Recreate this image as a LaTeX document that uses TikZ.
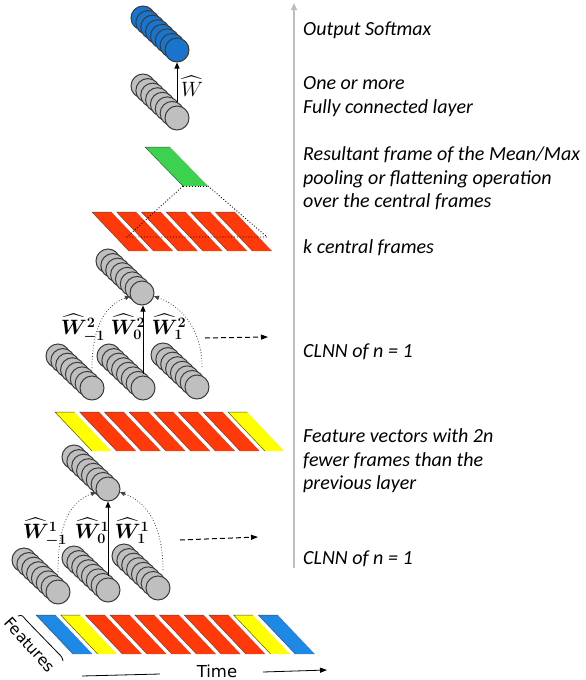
\documentclass[tikz,border=0pt]{standalone}
\usepackage{fontspec}
\usepackage{amsmath}
\usepackage{bm}
\setmainfont{Carlito}
\newfontfamily\sansdv{DejaVu Sans}
\usetikzlibrary{arrows.meta}
\definecolor{cylgray}{RGB}{191,191,191}
\definecolor{cylline}{RGB}{60,60,60}
\definecolor{cylblue}{RGB}{24,116,205}
\definecolor{stripered}{RGB}{255,58,10}
\definecolor{stripeyellow}{RGB}{255,255,0}
\definecolor{stripeblue}{RGB}{30,136,229}
\definecolor{framegreen}{RGB}{60,210,80}
\definecolor{axisgray}{RGB}{190,190,190}
\tikzset{
  disk/.style={draw=cylline, line width=1pt},
  disknode/.style={circle, minimum size=24pt, inner sep=0pt, draw=cylline, line width=1pt},
  stripeedge/.style={draw=black!70, line width=0.5pt},
  lbl/.style={anchor=west, inner sep=0pt, align=left, font=\itshape\fontsize{20}{23.5}\selectfont},
  wlbl/.style={inner sep=0pt, font=\fontsize{21}{24}\selectfont},
  solidarrow/.style={line width=0.9pt, -{Triangle[length=6pt,width=5pt]}},
  dotarrow/.style={dotted, line width=0.8pt, black!75, -{Triangle[length=5pt,width=4.5pt]}},
  dasharrow/.style={line width=1pt, dash pattern=on 5pt off 3pt, -{Triangle[length=7pt,width=5pt]}},
  dottri/.style={dotted, line width=0.9pt, black},
}
\newcommand{\diskstack}[4]{%
  \foreach \i in {0,...,6} {
    \draw[disk, fill=#4] ({#2-34+\i*34/7},{#3-32+\i*32/7}) circle[radius=12];
  }
  \node[disknode, fill=#4] (#1) at (#2,#3) {};
}
\newcommand{\stripe}[6]{%
  \fill[fill=#6] (#1,#2) -- ({#1+#3},#2) -- ({#1+#3+#5},{#2+#4}) -- ({#1+#5},{#2+#4}) -- cycle;
  \draw[stripeedge] ({#1+#5},{#2+#4}) -- (#1,#2) -- ({#1+#3},#2);
}
\begin{document}
\begin{tikzpicture}[x=1pt,y=-1pt]
\useasboundingbox (0,0) rectangle (586,680);
% axis
\coordinate (axbot) at (294,568);
\coordinate (axtop) at (294,3);
\draw[axisgray, line width=1.6pt, -{Triangle[length=7pt,width=6pt]}] (axbot) -- (axtop);
% texts
\node[lbl] (txsoft) at (303,30) {Output Softmax};
\node[lbl] (txfc) at (303,96.5) {One or more\\Fully connected layer};
\node[lbl] (txres) at (303,178.5) {Resultant frame of the Mean/Max\\pooling or flattening operation\\over the central frames};
\node[lbl] (txk) at (303,248) {k central frames};
\node[lbl] (txclnn2) at (303,352) {CLNN of n = 1};
\node[lbl] (txfeat) at (303,461) {Feature vectors with 2n\\fewer frames than the\\previous layer};
\node[lbl] (txclnn1) at (303,559) {CLNN of n = 1};
% bottom band
\foreach \c [count=\k from 0] in {stripeblue,stripeyellow,stripered,stripered,stripered,stripered,stripered,stripered,stripeyellow,stripeblue} {
  \stripe{36+\k*24.7}{615}{19.5}{39}{37}{\c}
}
% middle band
\foreach \c [count=\k from 0] in {stripeyellow,stripered,stripered,stripered,stripered,stripered,stripered,stripeyellow} {
  \stripe{55+\k*24.7}{412}{19.5}{39}{37}{\c}
}
% top band
\foreach \c [count=\k from 0] in {stripered,stripered,stripered,stripered,stripered,stripered} {
  \stripe{92+\k*24.7}{212}{19.5}{39}{37}{\c}
}
% green frame
\fill[framegreen] (145,147) -- (170,147) -- (208,186) -- (183,186) -- cycle;
\draw[stripeedge] (183,186) -- (145,147) -- (170,147);
\coordinate (gbl) at (183,186);
\coordinate (gbr) at (208,186);
\coordinate (tbl) at (127,237);
\coordinate (tbr) at (267,237);
\draw[dottri] (gbl) -- (gbr);
\draw[dottri] (gbl) -- (tbl) -- (tbr) -- (gbr);
% cylinders
\diskstack{blue}{177}{50}{cylblue}
\diskstack{fc}{177}{118}{cylgray}
\diskstack{t2}{142}{293}{cylgray}
\diskstack{l2}{92}{388}{cylgray}
\diskstack{m2}{143}{388}{cylgray}
\diskstack{r2}{197}{387}{cylgray}
\diskstack{t1}{108}{489}{cylgray}
\diskstack{l1}{58}{592}{cylgray}
\diskstack{m1}{108}{590}{cylgray}
\diskstack{r1}{158}{588}{cylgray}
% top arrow
\draw[solidarrow] ([yshift=4pt]fc.north) -- (blue.south);
\node[wlbl] (wtop) at (192,86) {$\widehat{W}$};
% layer 2 arrows
\draw[solidarrow] ([yshift=2pt]m2.north) -- (m2.north |- t2.south);
\draw[dotarrow] ([xshift=0pt,yshift=20pt]l2.center) to[out=90,in=200] (t2.195);
\draw[dotarrow] ([xshift=5pt,yshift=20pt]r2.center) to[out=90,in=-20] (t2.-15);
\node[wlbl] (w2a) at (83,328) {$\bm{\widehat{W}^{2}_{-1}}$};
\node[wlbl] (w2b) at (128,327) {$\bm{\widehat{W}^{2}_{0}}$};
\node[wlbl] (w2c) at (169,327) {$\bm{\widehat{W}^{2}_{1}}$};
\coordinate (d2s) at (205,338);
\coordinate (d2e) at (268,337);
\draw[dasharrow] (d2s) -- (d2e);
% layer 1 arrows
\draw[solidarrow] ([yshift=2pt]m1.north) -- (m1.north |- t1.south);
\draw[dotarrow] ([yshift=20pt]l1.center) to[out=90,in=200] (t1.195);
\draw[dotarrow] ([xshift=5pt,yshift=18pt]r1.center) to[out=90,in=-20] (t1.-15);
\node[wlbl] (w1a) at (45,532) {$\bm{\widehat{W}^{1}_{-1}}$};
\node[wlbl] (w1b) at (92,531) {$\bm{\widehat{W}^{1}_{0}}$};
\node[wlbl] (w1c) at (132,531) {$\bm{\widehat{W}^{1}_{1}}$};
\coordinate (d1s) at (180,540);
\coordinate (d1e) at (258,537);
\draw[dasharrow] (d1s) -- (d1e);
% features and time
\node[rotate=-48, inner sep=0pt, font=\sansdv\fontsize{15.5}{18}\selectfont] (feat) at (30,645) {Features};
\coordinate (fb1) at (18,616);
\coordinate (fb2) at (63,661);
\draw[line width=0.8pt] (fb1) .. controls (22,615) .. (26,620) -- (58,653) .. controls (62,657) .. (fb2);
\node[inner sep=0pt, font=\sansdv\fontsize{16.5}{20}\selectfont] (time) at (217,671) {Time};
\coordinate (tl1) at (82,676);
\coordinate (tl2) at (160,674);
\coordinate (ta1) at (263,672);
\coordinate (ta2) at (327,670);
\draw[line width=0.8pt] (tl1) -- (tl2);
\draw[line width=0.8pt, -{Triangle[length=7pt,width=5pt]}] (ta1) -- (ta2);
\end{tikzpicture}
\end{document}
